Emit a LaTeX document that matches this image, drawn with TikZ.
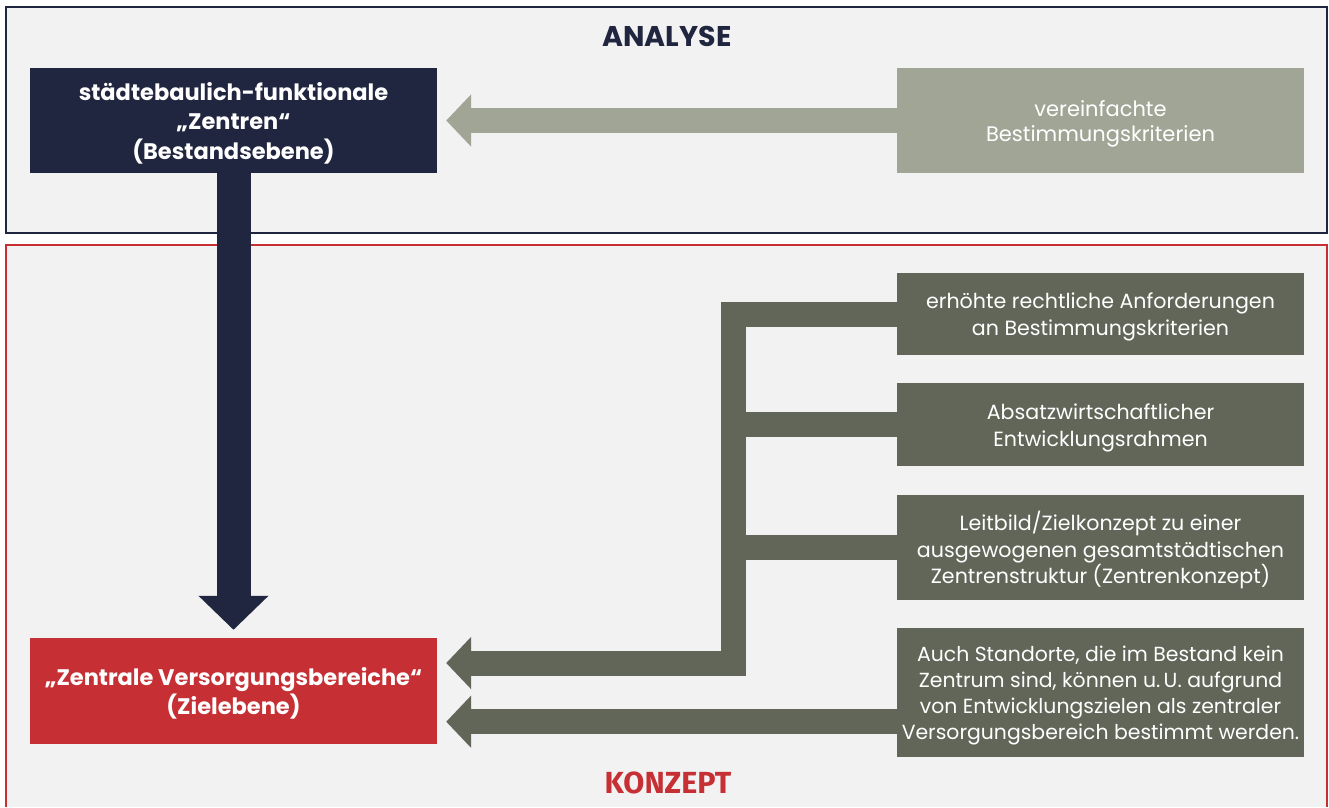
\documentclass[tikz,border=0pt]{standalone}
\usepackage{fontspec}
\setmainfont{Poppins}
\newfontfamily\konzeptfont{Fira Sans}
\usepackage{tikz}
\usetikzlibrary{arrows.meta,positioning}

\definecolor{navy}{HTML}{20263F}
\definecolor{zielrot}{HTML}{C62F33}
\definecolor{hellgrau}{HTML}{A1A596}
\definecolor{olivgrau}{HTML}{626658}
\definecolor{flaeche}{HTML}{F2F2F2}

\begin{document}
\begin{tikzpicture}[x=1pt,y=-1pt,
    box/.style={rectangle, minimum width=407pt, inner sep=0pt, text depth=0pt, align=center, text=white},
    ebene/.style={box, font=\bfseries\fontsize{22.5}{29.5}\selectfont},
    kriterium/.style={box, fill=olivgrau, font=\fontsize{20.6}{26.5}\selectfont},
    branch/.style={olivgrau, line width=25pt},
    tip/.style={-{Triangle[width=51pt,length=25pt]}, shorten >=9pt}]
      \useasboundingbox[fill=white] (0,0) rectangle (1329,807);
      % Rahmen der beiden Ebenen
      \draw[fill=flaeche, draw=navy, line width=1.5pt] (6,7) rectangle (1327,233);
      \fill[flaeche] (6,245) rectangle (1327,807);
      \draw[zielrot, line width=1.5pt] (6,807) -- (6,245) -- (1327,245) -- (1327,807);
      \node[navy, font=\bfseries\fontsize{28.5}{30}\selectfont] (analyse) at (667,36) {ANALYSE};
      \node[zielrot, font=\konzeptfont\bfseries\fontsize{30.5}{30}\selectfont] (konzept) at (668,783) {KONZEPT};

      \node[ebene, fill=navy, minimum height=105pt] (zentren) at (233.5,120.5)
        {städtebaulich-funktionale\\„Zentren“\\(Bestandsebene)};
      \node[box, fill=hellgrau, minimum height=105pt, font=\fontsize{21}{25}\selectfont] (vereinfacht) at (1100.5,120.5)
        {vereinfachte\\Bestimmungskriterien};
      \node[ebene, fill=zielrot, minimum height=106pt] (zvb) at (233.5,691)
        {„Zentrale Versorgungsbereiche“\\(Zielebene)};

      \node[kriterium, minimum height=82pt] (k1) at (1100.5,314)
        {erhöhte rechtliche Anforderungen\\an Bestimmungskriterien};
      \node[kriterium, minimum height=83pt, below=28pt of k1] (k2)
        {Absatzwirtschaftlicher\\Entwicklungsrahmen};
      \node[kriterium, minimum height=105pt, below=28pt of k2] (k3)
        {Leitbild/Zielkonzept zu einer\\ausgewogenen gesamtstädtischen\\Zentrenstruktur (Zentrenkonzept)};
      \node[kriterium, minimum height=129pt, below=28pt of k3, font=\fontsize{20.4}{26}\selectfont] (k4)
        {Auch Standorte, die im Bestand kein\\Zentrum sind, können u.\,U. aufgrund\\von Entwicklungszielen als zentraler\\Versorgungsbereich bestimmt werden.};

      \draw[hellgrau, line width=25pt, tip] (vereinfacht.west) -- (zentren.east);
      \draw[navy, line width=34pt, -{Triangle[width=68pt,length=34pt]}, shorten >=8pt] (zentren.south) -- (zvb.north);

      \coordinate (knoten) at (733,663);
      \draw[branch, tip] (k1.west) -| (knoten) -- (knoten -| zvb.east);
      \draw[branch] (k2.west) -- (k2.west -| knoten);
      \draw[branch] (k3.west) -- (k3.west -| knoten);
      \draw[branch, tip] ([yshift=-29pt]k4.west) -- ([yshift=-29pt]k4.west -| zvb.east);
\end{tikzpicture}
\end{document}
